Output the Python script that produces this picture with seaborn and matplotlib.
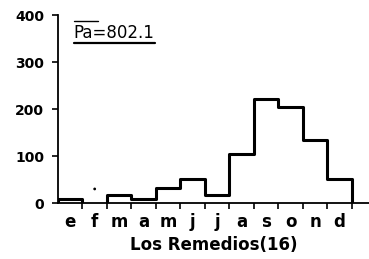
import matplotlib
matplotlib.use("Agg")
import matplotlib.pyplot as plt
import seaborn as sns
import pandas as pd

# ── Data ──────────────────────────────────────────────────────
months = ["e", "f", "m", "a", "m", "j", "j", "a", "s", "o", "n", "d"]
rain = [9, None, 17, 8, 31, 51, 17, 105, 221, 205, 134, 51]
trace_month = [1]       # month index with a trace mark
trace_value = [30]
station = "Los Remedios(16)"
annual = "802.1"
yticks = [0, 100, 200, 300, 400]

# ── Build step outline for each run of months with data ──────
runs = []
cur = []
for i, v in enumerate(rain):
    if v is None:
        if cur:
            runs.append(cur)
        cur = []
    else:
        cur.append(i)
if cur:
    runs.append(cur)

sns.set_style("ticks")
plt.rcParams["font.family"] = ["DejaVu Sans"]
plt.rcParams["text.color"] = "black"
plt.rcParams["axes.labelcolor"] = "black"
plt.rcParams["xtick.color"] = "black"
plt.rcParams["ytick.color"] = "black"

fig = plt.figure(figsize=(3.69, 2.59), dpi=100)
ax = fig.add_axes([0.157, 0.216, 0.843, 0.726])

for k, run in enumerate(runs):
    xs = [run[0]] + run + [run[-1] + 1]
    ys = [0] + [rain[i] for i in run] + [0]
    seg = pd.DataFrame({"x": xs, "y": ys})
    sns.lineplot(data=seg, x="x", y="y", ax=ax, color="black", lw=2.2,
                 drawstyle="steps-post", estimator=None, sort=False)

sns.scatterplot(x=[m + 0.5 for m in trace_month], y=trace_value, ax=ax,
                color="black", s=4, edgecolor="none")

ax.set_xlim(0, 12.7)
ax.set_ylim(0, 400)
ax.set_yticks(yticks)
ax.set_yticklabels([str(t) for t in yticks], fontsize=10, fontweight="bold")
ax.set_xticks(range(1, 13))
ax.set_xticklabels([""] * 12)
ax.set_xticks([i + 0.5 for i in range(12)], minor=True)
ax.set_xticklabels(months, minor=True, fontsize=12, fontweight="bold")
ax.tick_params(axis="x", which="minor", length=0, pad=7)
ax.tick_params(axis="both", which="major", direction="out", length=4,
               width=1.2, color="black")
ax.tick_params(axis="y", pad=6)
ax.set_xlabel(station, fontsize=12, fontweight="bold", labelpad=4)
ax.set_ylabel("")
for s in ["left", "bottom"]:
    ax.spines[s].set_linewidth(1.3)
    ax.spines[s].set_color("black")
sns.despine(ax=ax)

# annual total, underlined, with a bar over "Pa"
ax.text(0.051, 0.878, "Pa=" + annual, transform=ax.transAxes,
        fontsize=12, ha="left", va="baseline", color="black")
ax.plot([0.051, 0.312], [0.853, 0.853], transform=ax.transAxes,
        color="black", lw=1.6, clip_on=False)
ax.plot([0.051, 0.129], [0.970, 0.970], transform=ax.transAxes,
        color="black", lw=1.0, clip_on=False)

plt.savefig("out.png", dpi=100)
plt.close()
